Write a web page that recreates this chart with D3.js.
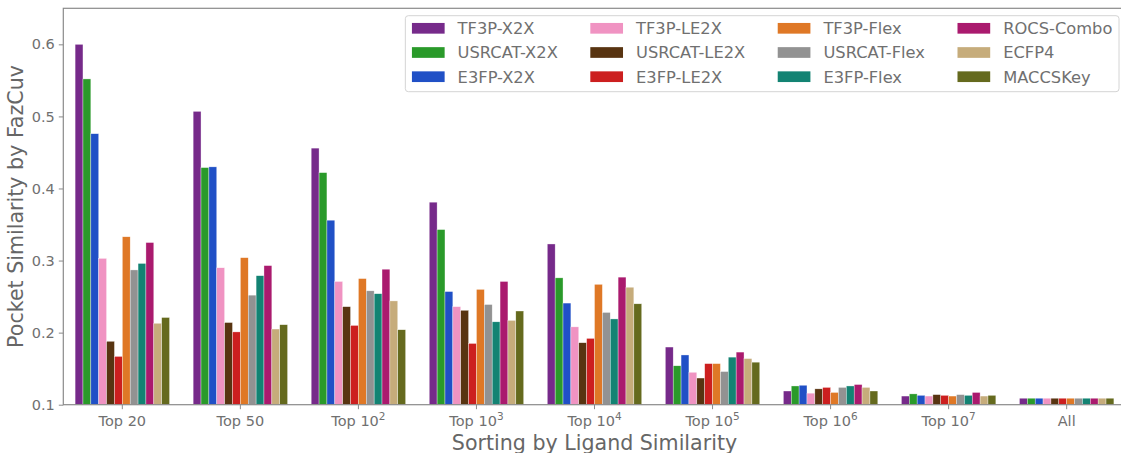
<!DOCTYPE html>
<html>
<head>
<meta charset="utf-8">
<script src="https://cdn.jsdelivr.net/npm/d3@7"></script>
<style>
  body { margin: 0; background: #fff; }
  svg { display: block; font-family: "DejaVu Sans", sans-serif; }
</style>
</head>
<body>
<script>
// groups along the x axis ("^" marks a superscript exponent)
var categories = ["Top 20", "Top 50", "Top 10^2", "Top 10^3", "Top 10^4", "Top 10^5", "Top 10^6", "Top 10^7", "All"];

var methods = ["TF3P-X2X", "USRCAT-X2X", "E3FP-X2X", "TF3P-LE2X", "USRCAT-LE2X", "E3FP-LE2X",
               "TF3P-Flex", "USRCAT-Flex", "E3FP-Flex", "ROCS-Combo", "ECFP4", "MACCSKey"];

var colors = ["#762a8a", "#2a9a2a", "#2050c6", "#f093c2", "#583411", "#cc1f1f",
              "#df7826", "#929292", "#138373", "#aa1a6e", "#c6ac7b", "#656a1e"];

// one array per method, values in category order
var tf3pX2X     = [0.600, 0.507, 0.456, 0.381, 0.323, 0.180, 0.119, 0.112, 0.109];
var usrcatX2X   = [0.552, 0.429, 0.422, 0.343, 0.276, 0.154, 0.126, 0.115, 0.109];
var e3fpX2X     = [0.476, 0.430, 0.356, 0.257, 0.241, 0.169, 0.127, 0.113, 0.109];
var tf3pLE2X    = [0.303, 0.290, 0.271, 0.236, 0.208, 0.145, 0.116, 0.112, 0.109];
var usrcatLE2X  = [0.188, 0.214, 0.236, 0.231, 0.186, 0.137, 0.122, 0.114, 0.109];
var e3fpLE2X    = [0.167, 0.201, 0.210, 0.185, 0.192, 0.157, 0.124, 0.113, 0.109];
var tf3pFlex    = [0.333, 0.304, 0.275, 0.260, 0.267, 0.157, 0.117, 0.112, 0.109];
var usrcatFlex  = [0.287, 0.252, 0.258, 0.239, 0.228, 0.146, 0.124, 0.114, 0.109];
var e3fpFlex    = [0.296, 0.279, 0.254, 0.215, 0.219, 0.166, 0.126, 0.113, 0.109];
var rocsCombo   = [0.325, 0.293, 0.288, 0.271, 0.277, 0.173, 0.128, 0.117, 0.109];
var ecfp4       = [0.213, 0.205, 0.244, 0.217, 0.263, 0.164, 0.124, 0.112, 0.109];
var maccsKey    = [0.221, 0.211, 0.204, 0.230, 0.240, 0.159, 0.119, 0.113, 0.109];

var series = [tf3pX2X, usrcatX2X, e3fpX2X, tf3pLE2X, usrcatLE2X, e3fpLE2X,
              tf3pFlex, usrcatFlex, e3fpFlex, rocsCombo, ecfp4, maccsKey];

var yTicks = [0.1, 0.2, 0.3, 0.4, 0.5, 0.6];

var width = 1121, height = 453;
var margin = {top: 8.3, right: -4.7, bottom: 48.3, left: 63.3};
var plotW = width - margin.left - margin.right;
var plotH = height - margin.top - margin.bottom;
var font = "DejaVu Sans";

var svg = d3.select("body").append("svg")
    .attr("width", width)
    .attr("height", height);

var x = d3.scaleBand()
    .domain(categories)
    .range([0, plotW])
    .paddingInner(0)
    .paddingOuter(0);

var xInner = d3.scaleBand()
    .domain(methods)
    .range([x.bandwidth() * 0.1, x.bandwidth() * 0.9]);

var y = d3.scaleLinear()
    .domain([0.1, 0.65])
    .range([plotH, 0]);

var g = svg.append("g")
    .attr("transform", `translate(${margin.left}, ${margin.top})`);

// bars
var groups = g.selectAll(".group")
    .data(categories)
  .enter().append("g")
    .attr("class", "group")
    .attr("transform", d => `translate(${x(d)}, 0)`);

groups.selectAll("rect")
    .data((c, ci) => methods.map((m, mi) => ({m: m, i: mi, v: series[mi][ci]})))
  .enter().append("rect")
    .attr("x", d => xInner(d.m))
    .attr("width", xInner.bandwidth())
    .attr("y", d => y(d.v))
    .attr("height", d => y(0.1) - y(d.v))
    .attr("fill", d => colors[d.i])
    .attr("stroke", "#fff")
    .attr("stroke-width", 0.5)
    .attr("stroke-opacity", 0.7);

// axes
var textColor = "#707070";
var spineColor = "#8a8a8a";

var yAxis = g.append("g")
    .call(d3.axisLeft(y).tickValues(yTicks).tickSize(4.5).tickPadding(4).tickFormat(d3.format(".1f")));

var xAxis = g.append("g")
    .attr("transform", `translate(0, ${plotH})`)
    .call(d3.axisBottom(x).tickSize(4.5).tickPadding(6).tickFormat(""));

[yAxis, xAxis].forEach(a => {
  a.attr("font-family", font);
  a.select(".domain").remove();
  a.selectAll("line").attr("stroke", spineColor).attr("stroke-width", 1);
  a.selectAll("text").attr("fill", textColor).style("font-size", "14.5px");
});

// x tick labels with superscripts
xAxis.selectAll(".tick").each(function(d) {
  var parts = d.split("^");
  var t = d3.select(this).append("text")
      .attr("y", 21.5)
      .attr("text-anchor", "middle")
      .attr("fill", textColor)
      .style("font-family", font)
      .style("font-size", "14.5px");
  t.append("tspan").text(parts[0]);
  if (parts.length > 1) {
    t.append("tspan")
        .attr("dy", -6)
        .style("font-size", "10.5px")
        .text(parts[1]);
  }
});

// frame
g.append("rect")
    .attr("width", plotW)
    .attr("height", plotH)
    .attr("fill", "none")
    .attr("stroke", spineColor)
    .attr("stroke-width", 1.2);

// axis titles
svg.append("text")
    .attr("transform", `translate(23, ${margin.top + plotH / 2}) rotate(-90)`)
    .attr("text-anchor", "middle")
    .attr("fill", "#666")
    .style("font-size", "20.6px")
    .text("Pocket Similarity by FazCuv");

svg.append("text")
    .attr("x", margin.left + plotW / 2)
    .attr("y", 450)
    .attr("text-anchor", "middle")
    .attr("fill", "#666")
    .style("font-size", "20.6px")
    .text("Sorting by Ligand Similarity");

// legend: 4 columns x 3 rows, laid out like matplotlib
var nRows = 3, nCols = 4;
var pad = 6.6, swW = 32.7, swH = 10.7, textGap = 13, colGap = 32.5, rowH = 24.2;
var legend = g.append("g").attr("class", "legend");

var box = legend.append("rect")
    .attr("rx", 3)
    .attr("fill", "#fff")
    .attr("fill-opacity", 0.85)
    .attr("stroke", "#d4d4d4")
    .attr("stroke-width", 1);

var items = legend.selectAll(".item")
    .data(methods)
  .enter().append("g")
    .attr("class", "item");

items.append("rect")
    .attr("width", swW)
    .attr("height", swH)
    .attr("y", -swH / 2)
    .attr("fill", (d, i) => colors[i]);

items.append("text")
    .attr("x", swW + textGap)
    .attr("dy", "0.36em")
    .attr("fill", textColor)
    .style("font-family", font)
    .style("font-size", "16.3px")
    .text(d => d);

var colWidths = [];
items.each(function(d, i) {
  var c = Math.floor(i / nRows);
  var w = d3.select(this).select("text").node().getComputedTextLength();
  colWidths[c] = Math.max(colWidths[c] || 0, w);
});

var colX = [], cx = pad;
for (var c = 0; c < nCols; c++) {
  colX.push(cx);
  cx += swW + textGap + colWidths[c] + colGap;
}
var boxW = cx - colGap + pad;
var boxH = 76;
var boxX = plotW - 6.7 - boxW, boxY = 7.4;

legend.attr("transform", `translate(${boxX}, ${boxY})`);
box.attr("width", boxW).attr("height", boxH);
items.attr("transform", (d, i) => `translate(${colX[Math.floor(i / nRows)]}, ${12.6 + (i % nRows) * rowH})`);
</script>
</body>
</html>
